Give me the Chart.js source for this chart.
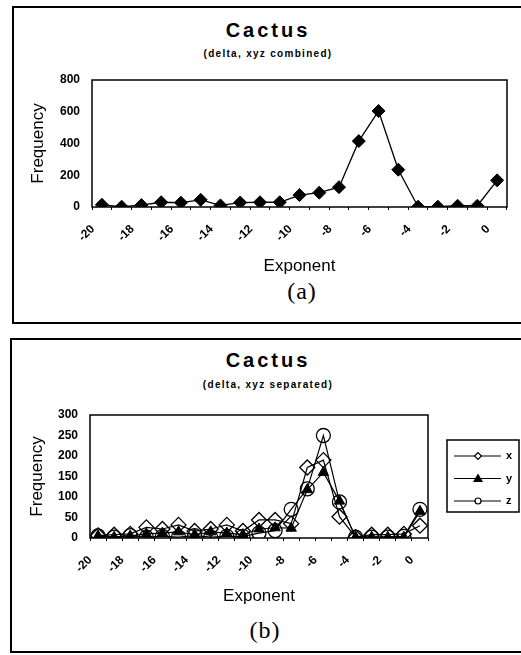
<!DOCTYPE html>
<html>
<head>
<meta charset="utf-8">
<script src="https://cdn.jsdelivr.net/npm/chart.js"></script>
<style>
  html, body { margin: 0; padding: 0; background: #fff; }
  body { position: relative; width: 521px; height: 655px; overflow: hidden; font-family: Arial, "Liberation Sans", sans-serif; }
  .frame { position: absolute; border: 2px solid #000; box-sizing: border-box; }
  canvas { position: absolute; left: 0; }
  .txt { position: absolute; transform: translate(-50%, -50%); white-space: nowrap; line-height: 1; color: #000; }
  .ttl { font: bold 20px Arial, "Liberation Sans", sans-serif; letter-spacing: 3px; }
  .sub { font: bold 10px Arial, "Liberation Sans", sans-serif; letter-spacing: 1.3px; }
  .cap { font: 24px "Liberation Serif", "Times New Roman", serif; letter-spacing: 1px; }
</style>
</head>
<body>
<div class="frame" style="left:12px; top:6px; width:540px; height:318px;"></div>
<div class="frame" style="left:10px; top:338px; width:540px; height:315px;"></div>

<div class="txt ttl" style="left:268px; top:30px;">Cactus</div>
<div class="txt sub" style="left:268px; top:53px;">(delta, xyz combined)</div>
<div class="txt cap" style="left:302px; top:291px;">(a)</div>

<div class="txt ttl" style="left:268px; top:360px;">Cactus</div>
<div class="txt sub" style="left:268px; top:384px;">(delta, xyz separated)</div>
<div class="txt cap" style="left:265px; top:630px;">(b)</div>

<canvas id="chartA" width="521" height="325" style="top:0px"></canvas>
<canvas id="chartB" width="521" height="325" style="top:330px"></canvas>

<script>
// exponent categories, labelled every second one
const exponents = ['-20','-19','-18','-17','-16','-15','-14','-13','-12','-11','-10',
                   '-9','-8','-7','-6','-5','-4','-3','-2','-1','0'];

// (a) x, y, z combined
const combined = [14, 2, 12, 30, 27, 45, 10, 28, 30, 30, 75, 90, 125, 415, 605, 235, 2, 2, 8, 8, 168];
const ticksA = [0, 200, 400, 600, 800];

// (b) x, y, z separated
const seriesX = [6, 8, 10, 26, 22, 32, 17, 22, 32, 17, 44, 44, 35, 172, 190, 52, 2, 8, 8, 10, 30];
const seriesY = [5, 2, 5, 10, 12, 15, 8, 15, 12, 8, 22, 25, 24, 118, 160, 90, 2, 2, 2, 2, 65];
const seriesZ = [5, 2, 6, 2, 4, 2, 6, 2, 4, 4, 12, 18, 70, 120, 250, 88, 2, 2, 2, 4, 70];
const ticksB = [0, 50, 100, 150, 200, 250, 300];

const FONT = 'Arial, "Liberation Sans", sans-serif';

// box round the plot area
const plotFrame = {
    id: 'plotFrame',
    beforeDatasetsDraw(chart) {
        const a = chart.chartArea;
        const ctx = chart.ctx;
        ctx.save();
        ctx.strokeStyle = '#000';
        ctx.lineWidth = 1.5;
        ctx.strokeRect(a.left, a.top, a.right - a.left, a.bottom - a.top);
        ctx.restore();
    }
};

// excel style legend: line with marker, in a box
const boxLegend = {
    id: 'boxLegend',
    afterDraw(chart) {
        const a = chart.chartArea;
        const ctx = chart.ctx;
        const left = a.right + 19, top = a.top + 25;
        ctx.save();
        ctx.strokeStyle = '#000';
        ctx.fillStyle = '#000';
        ctx.lineWidth = 1.5;
        ctx.strokeRect(left, top, 72, 72);
        ctx.font = 'bold 11px ' + FONT;
        ctx.textBaseline = 'middle';
        chart.data.datasets.forEach((ds, i) => {
            const y = top + 16 + i * 22.5;
            const mx = left + 31;
            ctx.lineWidth = 1.2;
            ctx.beginPath();
            ctx.moveTo(left + 7, y);
            ctx.lineTo(left + 54, y);
            ctx.stroke();
            ctx.beginPath();
            if (ds.pointStyle === 'triangle') {
                ctx.moveTo(mx - 5, y + 3.5);
                ctx.lineTo(mx, y - 5);
                ctx.lineTo(mx + 5, y + 3.5);
                ctx.closePath();
                ctx.fill();
            } else if (ds.pointStyle === 'rectRot') {
                ctx.moveTo(mx - 3.5, y);
                ctx.lineTo(mx, y - 3.5);
                ctx.lineTo(mx + 3.5, y);
                ctx.lineTo(mx, y + 3.5);
                ctx.closePath();
                ctx.fillStyle = '#fff';
                ctx.fill();
                ctx.stroke();
                ctx.fillStyle = '#000';
            } else {
                ctx.arc(mx, y, 3, 0, Math.PI * 2);
                ctx.fillStyle = '#fff';
                ctx.fill();
                ctx.stroke();
                ctx.fillStyle = '#000';
            }
            ctx.fillText(ds.label, left + 59, y);
        });
        ctx.restore();
    }
};

function makeScales(yTicks, yWidth, xHeight, yTitlePad, xTitlePad, labelShift) {
    return {
        x: {
            offset: true,
            afterFit: (s) => { s.height = xHeight; },
            grid: { display: true, drawOnChartArea: false, offset: true, tickLength: 3, color: '#000', lineWidth: 1 },
            border: { display: false },
            ticks: {
                autoSkip: false,
                minRotation: 45,
                maxRotation: 45,
                padding: 12,
                labelOffset: labelShift,
                color: '#000',
                font: { family: FONT, size: 12, weight: 'bold' },
                callback: (v, i) => (i % 2 === 0 ? exponents[i] : '')
            },
            title: {
                display: true,
                text: 'Exponent',
                color: '#000',
                font: { family: FONT, size: 17 },
                padding: { top: 0, bottom: xTitlePad }
            }
        },
        y: {
            min: yTicks[0],
            max: yTicks[yTicks.length - 1],
            afterFit: (s) => { s.width = yWidth; },
            afterBuildTicks: (s) => { s.ticks = yTicks.map(v => ({ value: v })); },
            grid: { display: false },
            border: { display: false },
            ticks: {
                padding: 4,
                color: '#000',
                font: { family: FONT, size: 12, weight: 'bold' }
            },
            title: {
                display: true,
                text: 'Frequency',
                color: '#000',
                font: { family: FONT, size: 17 },
                padding: { top: yTitlePad, bottom: 0 }
            }
        }
    };
}

const baseOptions = {
    responsive: false,
    animation: false,
    devicePixelRatio: 1,
    plugins: { legend: { display: false }, tooltip: { enabled: false } }
};

window.addEventListener('load', () => {
    new Chart(document.getElementById('chartA'), {
        type: 'line',
        data: {
            labels: exponents,
            datasets: [{
                label: 'xyz',
                data: combined,
                borderColor: '#000',
                borderWidth: 1.3,
                tension: 0,
                pointStyle: 'rectRot',
                pointRadius: 6.5,
                pointBackgroundColor: '#000',
                pointBorderColor: '#000',
                pointBorderWidth: 1
            }]
        },
        options: Object.assign({}, baseOptions, {
            layout: { padding: { top: 80, left: 26, right: 14, bottom: 40 } },
            scales: makeScales(ticksA, 66, 78, 2.3, 8, -9)
        }),
        plugins: [plotFrame]
    });

    new Chart(document.getElementById('chartB'), {
        type: 'line',
        data: {
            labels: exponents,
            datasets: [
                {
                    label: 'x',
                    data: seriesX,
                    borderColor: '#000',
                    borderWidth: 1.2,
                    tension: 0,
                    pointStyle: 'rectRot',
                    pointRadius: 7.5,
                    pointBackgroundColor: 'rgba(255,255,255,0)',
                    pointBorderColor: '#000',
                    pointBorderWidth: 1.3
                },
                {
                    label: 'y',
                    data: seriesY,
                    borderColor: '#000',
                    borderWidth: 1.2,
                    tension: 0,
                    pointStyle: 'triangle',
                    pointRadius: 6,
                    pointBackgroundColor: '#000',
                    pointBorderColor: '#000',
                    pointBorderWidth: 1
                },
                {
                    label: 'z',
                    data: seriesZ,
                    borderColor: '#000',
                    borderWidth: 1.2,
                    tension: 0,
                    pointStyle: 'circle',
                    pointRadius: 7,
                    pointBackgroundColor: 'rgba(255,255,255,0)',
                    pointBorderColor: '#000',
                    pointBorderWidth: 1.3
                }
            ]
        },
        options: Object.assign({}, baseOptions, {
            layout: { padding: { top: 85, left: 24, right: 93, bottom: 40 } },
            scales: makeScales(ticksB, 66, 77, 2.8, 8, -8)
        }),
        plugins: [plotFrame, boxLegend]
    });
});
</script>
</body>
</html>
